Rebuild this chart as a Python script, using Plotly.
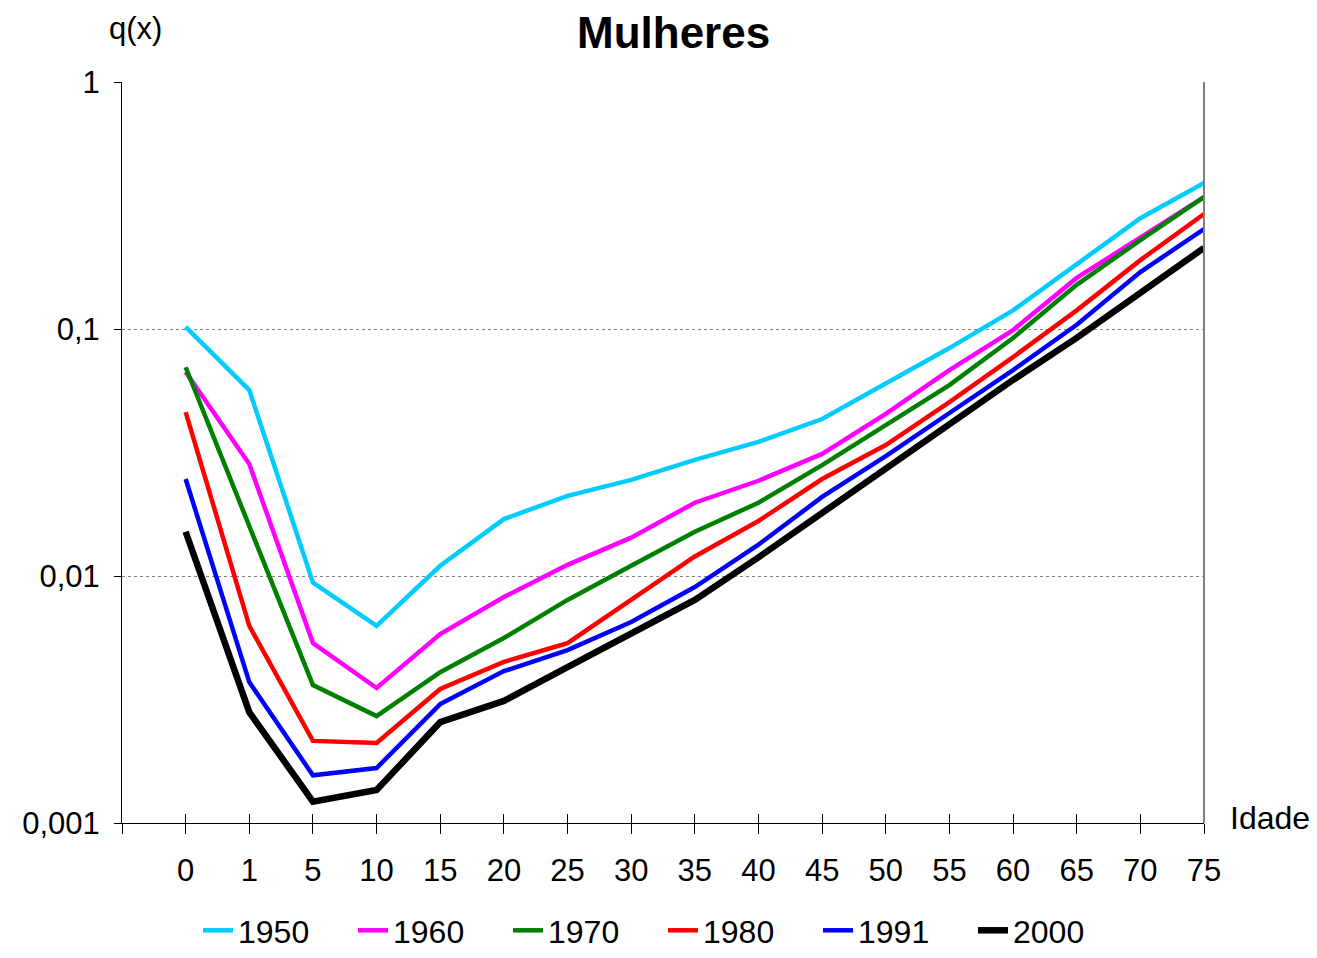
import plotly.graph_objects as go

# Age groups (Idade) and probabilities of death q(x), women
ages = ["0", "1", "5", "10", "15", "20", "25", "30", "35", "40",
        "45", "50", "55", "60", "65", "70", "75"]

q_1950 = [0.102, 0.0566, 0.0094, 0.00628, 0.0110, 0.0170, 0.0211, 0.0245, 0.0295,
          0.0349, 0.0432, 0.0599, 0.0837, 0.119, 0.183, 0.281, 0.390]
q_1960 = [0.067, 0.0284, 0.00535, 0.00352, 0.00582, 0.00822, 0.0111, 0.0143, 0.0198,
          0.0243, 0.0312, 0.0453, 0.0682, 0.099, 0.161, 0.236, 0.342]
q_1970 = [0.070, 0.0161, 0.00362, 0.00271, 0.00408, 0.00561, 0.0080, 0.0110, 0.0151,
          0.0198, 0.0281, 0.0408, 0.0593, 0.092, 0.151, 0.229, 0.342]
q_1980 = [0.0461, 0.00628, 0.00215, 0.00211, 0.00349, 0.00449, 0.00535, 0.0080, 0.0120,
          0.0167, 0.0247, 0.0339, 0.0506, 0.077, 0.119, 0.190, 0.292]
q_1991 = [0.0247, 0.00372, 0.00156, 0.00167, 0.00303, 0.00412, 0.00501, 0.00651, 0.00902,
          0.0134, 0.0209, 0.0306, 0.0457, 0.0682, 0.104, 0.170, 0.254]
q_2000 = [0.0151, 0.00281, 0.00122, 0.00136, 0.00256, 0.00312, 0.00428, 0.00582, 0.0080,
          0.0119, 0.0180, 0.0271, 0.0412, 0.0622, 0.092, 0.139, 0.213]

series = [
    ("1950", q_1950, "#00CCFF", 4.5),
    ("1960", q_1960, "#FF00FF", 4.5),
    ("1970", q_1970, "#008000", 4.5),
    ("1980", q_1980, "#FF0000", 4.5),
    ("1991", q_1991, "#0000FF", 4.5),
    ("2000", q_2000, "#000000", 6.5),
]

y_ticks = [0.001, 0.01, 0.1, 1]
y_tick_text = ["0,001", "0,01", "0,1", "1"]

pos = list(range(len(ages)))
tick_pos = [-1] + pos
tick_text = [""] + ages

FONT = "Liberation Sans, Arial, sans-serif"

fig = go.Figure()
for name, vals, color, width in series:
    fig.add_trace(go.Scatter(x=pos, y=vals, mode="lines", name=name,
                             line=dict(color=color, width=width)))

# invisible trace carrying the secondary x axis (inner half of the tick marks)
fig.add_trace(go.Scatter(x=[pos[0]], y=[y_ticks[0]], xaxis="x2", mode="lines",
                         showlegend=False, hoverinfo="skip",
                         line=dict(color="rgba(0,0,0,0)")))

fig.update_layout(
    width=1317, height=958,
    margin=dict(l=122, r=113, t=82, b=135, autoexpand=False),
    paper_bgcolor="white", plot_bgcolor="white",
    font=dict(family=FONT, color="black", size=31),
    showlegend=True,
    legend=dict(orientation="h", x=0.5, xanchor="center", yref="container",
                y=0.0, yanchor="bottom", entrywidth=110, entrywidthmode="pixels",
                bgcolor="rgba(0,0,0,0)",
                font=dict(family=FONT, size=32),
                tracegroupgap=0, traceorder="normal"),
    xaxis=dict(range=[-1, len(ages) - 1], tickvals=tick_pos, ticktext=tick_text,
               showgrid=False, zeroline=False, showline=True, linecolor="black",
               linewidth=1, ticks="outside", ticklen=10, tickcolor="black",
               tickwidth=1, ticklabelstandoff=10, automargin=False,
               tickfont=dict(size=31, family=FONT)),
    xaxis2=dict(overlaying="x", range=[-1, len(ages) - 1], tickvals=tick_pos,
                ticktext=[""] * len(tick_pos), showgrid=False, zeroline=False,
                showline=False, ticks="inside", ticklen=9, tickcolor="black",
                tickwidth=1, side="bottom", anchor="y", automargin=False),
    yaxis=dict(type="log", range=[-3, 0], tickvals=y_ticks, ticktext=y_tick_text,
               showgrid=True, gridcolor="#808080", griddash="dot", gridwidth=1,
               zeroline=False, showline=True, linecolor="black", linewidth=1,
               ticks="outside", ticklen=7, tickcolor="black", ticklabelstandoff=8,
               automargin=False, tickfont=dict(size=31, family=FONT)),
    annotations=[
        dict(text="<b>Mulheres</b>", xref="paper", yref="paper", x=0.51, y=1.0,
             yshift=50, yanchor="middle", showarrow=False,
             font=dict(size=44, family=FONT)),
        dict(text="q(x)", xref="paper", yref="paper", x=-0.014, y=1.0, yshift=54,
             yanchor="middle", xanchor="left", showarrow=False,
             font=dict(size=31, family=FONT)),
        dict(text="Idade", xref="paper", yref="paper", x=1.0, xshift=24, y=0.0,
             yshift=5, xanchor="left", yanchor="middle", showarrow=False,
             font=dict(size=32, family=FONT)),
    ],
    shapes=[
        dict(type="line", xref="paper", yref="paper", x0=1, x1=1, y0=0, y1=1,
             line=dict(color="#808080", width=2)),
    ],
)

fig.write_html("out.html")
